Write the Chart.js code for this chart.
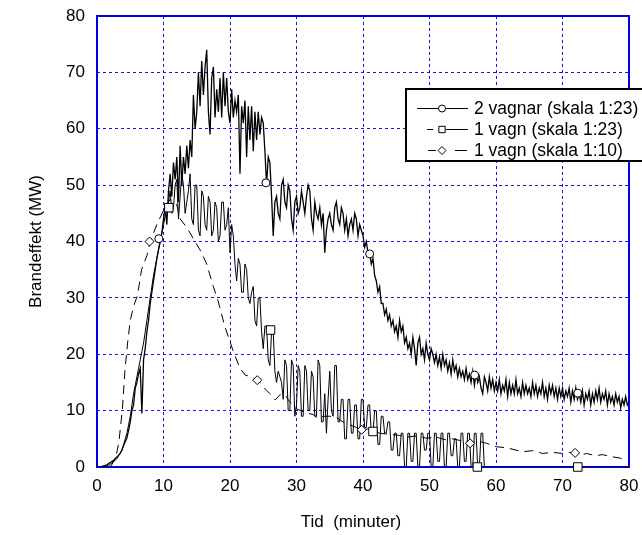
<!DOCTYPE html>
<html>
<head>
<meta charset="utf-8">
<script src="https://cdn.jsdelivr.net/npm/chart.js@4.4.0/dist/chart.umd.min.js"></script>
<style>
  html, body { margin: 0; padding: 0; background: #fff; }
  canvas { display: block; }
</style>
</head>
<body>
<canvas id="fireChart" width="642" height="535"></canvas>
<script>
// minuter mellan mätpunkterna i de två 1:23-serierna
const sampleStep = 0.25;

// 2 vagnar (skala 1:23), MW, var 0.25 min från 0 till 80
const vagnar2 = [
    0, 0, 0, 0.1, 0.2, 0.3, 0.4, 0.6, 0.8, 1.0, 1.2, 1.5, 1.8, 2.1, 2.4, 3, 3.8, 4.5, 5.2, 6.5,
    8, 10, 11, 14, 15, 16.5, 17.5, 9.5, 19, 21, 24, 26, 29, 31, 33, 35, 37, 38.5, 40, 41.5,
    44, 46, 43, 49, 52, 48, 54, 51, 55, 47, 57, 50, 55, 52, 57, 53, 58, 55, 66, 60,
    63, 70, 64, 72, 66, 71, 74, 63, 59, 69, 71, 62, 67, 63, 69, 62, 70, 64, 69, 63,
    61, 67, 62, 65, 63, 66, 52, 64, 61, 65, 55, 64, 58, 64, 56, 63, 58, 63, 59, 62,
    61, 56, 50, 55, 54, 48, 41, 47, 48, 45, 44, 50, 51, 47, 46, 50, 49, 44, 42, 47,
    48, 45, 46, 49, 47, 45, 48, 50, 49, 44, 42, 47, 45, 44, 46, 43, 45, 38, 42, 44,
    45, 43, 42, 46, 47, 44, 43, 46, 45, 42, 44, 41, 43, 44, 42, 45, 44, 41, 43, 42,
    41, 39, 40, 38, 38, 36, 37, 34, 33, 31, 32, 29, 29, 27, 28, 26, 27, 25, 26, 24,
    25, 23, 26, 24, 25, 22, 23, 21, 22, 20, 23, 21, 18, 22, 23, 20, 21, 19, 22, 20,
    19, 21, 20, 18.5, 20, 18, 19.5, 17.5, 20, 18, 19, 17, 18.5, 16.5, 19, 17, 18, 16, 17.5, 16,
    17, 15.5, 17.5, 15.5, 16.5, 15, 17, 14.5, 16.5, 15, 16, 14, 13, 16, 15, 13.5, 16, 14, 15.5, 13.5,
    15, 13.5, 15.5, 13, 14.5, 13.5, 15.5, 12.5, 15, 13, 14.5, 13, 15.5, 13, 14, 12.5, 15, 13, 14.5, 13,
    14, 12.5, 15, 13, 14.5, 12.5, 14, 13, 15, 12.5, 14, 12, 14.5, 13, 14.5, 12.5, 14, 12, 14, 12.5,
    14, 12, 13.5, 12.5, 14, 11.5, 13.5, 12, 14, 12, 13, 11.5, 13.5, 11, 13, 12, 13.5, 11, 13, 11.5,
    13.5, 12, 14, 11.5, 13, 12, 13.5, 11, 13, 11.5, 12.5, 11, 13, 11.5, 12.5, 10.5, 12, 11, 12.5, 11,
    11.5
];

// 1 vagn (skala 1:23), MW, var 0.25 min från 0 till 80
const vagn1 = [
    0, 0, 0, 0, 0, 0.1, 0.2, 0.3, 0.5, 0.7, 1, 1.2, 1.5, 2, 2.5, 3, 4, 5, 6, 7.5,
    9, 11, 13, 14.5, 16, 17.5, 19, 20.5, 22, 24, 26, 28, 30, 32, 34, 35.5, 37, 38.5, 40, 41.5,
    43, 44.5, 46, 47, 49, 45, 46, 50, 51, 44, 48, 52, 50, 45, 47, 49, 52, 44, 43, 50,
    50, 42, 41, 49, 48, 43, 42, 48, 47, 41, 42, 47, 46, 40, 41, 47, 47, 42, 43, 46,
    38, 43, 41, 36, 33, 37, 36, 31, 31, 36, 35, 30, 29, 31, 32, 26, 25, 30, 30, 24,
    21, 25, 25, 19, 18, 24, 24, 17, 15, 17, 16, 15, 12, 19, 18, 10, 10, 19, 18, 9,
    11, 18, 17, 9, 9, 18, 17, 10, 10, 17, 16, 9, 9, 19, 18, 8, 8, 13, 6, 12,
    17, 10, 9, 18, 18, 8, 8, 12, 12, 5, 5, 12, 12, 6, 6, 11, 11, 5, 5, 12,
    12, 7, 7, 11, 11, 6, 6, 10, 10, 4, 4, 9, 9, 6, 6, 8, 8, 3, 3, 6,
    6, 2, 2, 6, 6, 0, 0, 6, 6, 1, 1, 6, 6, 0, 0, 6, 6, 3, 3, 6,
    6, 0, 0, 6, 6, 1, 1, 6, 6, 0, 0, 6, 6, 2, 2, 5, 5, 0, 0, 6,
    6, 1, 1, 6, 6, 0, 0, 6, 6, 0, 0, 6, 6, 0, 0, 0, 0, 0, 0, 0,
    0, 0, 0, 0, 0, 0, 0, 0, 0, 0, 0, 0, 0, 0, 0, 0, 0, 0, 0, 0,
    0, 0, 0, 0, 0, 0, 0, 0, 0, 0, 0, 0, 0, 0, 0, 0, 0, 0, 0, 0,
    0, 0, 0, 0, 0, 0, 0, 0, 0, 0, 0, 0, 0, 0, 0, 0, 0, 0, 0, 0,
    0, 0, 0, 0, 0, 0, 0, 0, 0, 0, 0, 0, 0, 0, 0, 0, 0, 0, 0, 0,
    0
];

// 1 vagn (skala 1:10)
const vagn10Time = [
    2, 2.8, 3.3, 3.8, 4.2, 4.6, 5, 5.5, 6.1, 6.7, 7.5, 8, 9, 10, 11, 12,
    12.5, 13.5, 14.5, 15.5, 16.5, 17.5, 18.2, 19.2, 20.5, 21.5, 22.3, 23.2, 24.2, 25, 26, 26.8,
    27.5, 28.3, 29, 30, 31.5, 32.5, 33.3, 34, 35, 36, 37, 38, 39, 40, 41, 42.5,
    44, 45.5, 46.6, 48, 49.6, 51, 52.5, 53.5, 55, 56.1, 57.2, 58.6, 60, 61.6, 63, 64,
    65.5, 67, 68.5, 70, 71, 71.9, 73, 73.6, 75, 76, 77.5, 78.6, 79.5
];
const vagn10Power = [
    0, 1.5, 4.5, 10, 17, 22, 26, 28.5, 30.5, 35, 37.5, 40, 43, 45.5, 47.5, 46.5,
    44, 42.5, 40.5, 38.5, 36, 32, 29.5, 25, 20.5, 17.5, 16.3, 16, 15.4, 14.2, 13, 11.9,
    12.8, 12.8, 11.5, 10.3, 9.6, 9.3, 8.6, 9, 9, 8.8, 8, 7.5, 7, 6.6, 6.8, 6,
    5.8, 5.6, 5.3, 5.5, 5.1, 5.3, 4.8, 5, 4.6, 4.2, 4.6, 4.2, 3.6, 3.4, 3, 2.7,
    2.9, 2.4, 2.6, 2.4, 2.6, 2.5, 2.2, 2.4, 2, 2.2, 1.8, 1.6, 1.2
];

// symboler längs kurvorna [tid, MW]
const circleMarks  = [[9.3, 40.5], [25.4, 50.4], [41, 37.8], [56.8, 16.3], [72.3, 13.1]];
const squareMarks  = [[10.8, 46], [26.1, 24.3], [41.5, 6.3], [57.2, 0], [72.3, 0]];
const diamondMarks = [[7.9, 40], [24.1, 15.4], [39.8, 6.6], [56.1, 4.2], [71.9, 2.5]];

const seriesLabels = ['2 vagnar (skala 1:23)', '1 vagn (skala 1:23)', '1 vagn (skala 1:10)'];
const xTitle = 'Tid  (minuter)';
const yTitle = 'Brandeffekt (MW)';
const axisMin = 0;
const axisMax = 80;
const tickStep = 10;

const FONT = "'Liberation Sans', Arial, Helvetica, sans-serif";
const GRID_BLUE = '#1414f0';

function sampled(values) {
    return values.map((v, i) => ({ x: i * sampleStep, y: v }));
}
function pairs(list) {
    return list.map(p => ({ x: p[0], y: p[1] }));
}

// blå ram runt diagramytan
const framePlugin = {
    id: 'frame',
    beforeDatasetsDraw(chart) {
        const { ctx, chartArea: a } = chart;
        ctx.save();
        ctx.strokeStyle = '#0000e6';
        ctx.lineWidth = 2;
        ctx.setLineDash([]);
        ctx.strokeRect(a.left, a.top, a.right - a.left, a.bottom - a.top);
        ctx.restore();
    }
};

// axeltitlar
const titlePlugin = {
    id: 'axisTitles',
    afterDraw(chart) {
        const { ctx, chartArea: a } = chart;
        ctx.save();
        ctx.fillStyle = '#000';
        ctx.textAlign = 'center';
        ctx.textBaseline = 'middle';
        ctx.font = '17px ' + FONT;
        ctx.fillText(xTitle, 351, 522);
        ctx.translate(36, (a.top + a.bottom) / 2);
        ctx.rotate(-Math.PI / 2);
        ctx.fillText(yTitle, 0, 0);
        ctx.restore();
    }
};

// förklaring i rutan uppe till höger
const legendPlugin = {
    id: 'boxLegend',
    afterDraw(chart) {
        const ctx = chart.ctx;
        const draw = Chart.helpers.drawPoint;
        ctx.save();
        ctx.fillStyle = '#fff';
        ctx.fillRect(406, 89, 240, 72);
        ctx.strokeStyle = '#000';
        ctx.lineWidth = 2;
        ctx.strokeRect(406, 89, 240, 72);

        ctx.lineWidth = 1;
        const rows = [108, 129, 150];
        const segs = [
            [[417, 468]],
            [[427, 433], [446, 468]],
            [[428, 436], [455, 467]]
        ];
        const styles = [
            { pointStyle: 'circle', radius: 3.5 },
            { pointStyle: 'rect', radius: 4.5 },
            { pointStyle: 'rectRot', radius: 4 }
        ];
        rows.forEach((y, i) => {
            ctx.strokeStyle = '#000';
            ctx.beginPath();
            segs[i].forEach(s => { ctx.moveTo(s[0], y + 0.5); ctx.lineTo(s[1], y + 0.5); });
            ctx.stroke();
            ctx.fillStyle = '#fff';
            ctx.strokeStyle = '#000';
            draw(ctx, { pointStyle: styles[i].pointStyle, radius: styles[i].radius, borderWidth: 1, rotation: 0 }, 442, y + 0.5);
            ctx.fillStyle = '#000';
            ctx.font = '17.5px ' + FONT;
            ctx.textAlign = 'left';
            ctx.textBaseline = 'middle';
            ctx.fillText(seriesLabels[i], 474, y + 1);
        });
        ctx.restore();
    }
};

function markerSet(list, style, radius) {
    return {
        type: 'scatter',
        data: pairs(list),
        showLine: false,
        pointStyle: style,
        pointRadius: radius,
        pointBackgroundColor: '#fff',
        pointBorderColor: '#000',
        pointBorderWidth: 1,
        clip: false,
        order: -1
    };
}

new Chart(document.getElementById('fireChart').getContext('2d'), {
    type: 'line',
    data: {
        datasets: [
            {
                label: seriesLabels[0],
                data: sampled(vagnar2),
                borderColor: '#000',
                borderWidth: 1.3,
                pointRadius: 0,
                tension: 0
            },
            {
                label: seriesLabels[1],
                data: sampled(vagn1),
                borderColor: '#000',
                borderWidth: 1,
                pointRadius: 0,
                tension: 0
            },
            {
                label: seriesLabels[2],
                data: vagn10Time.map((t, i) => ({ x: t, y: vagn10Power[i] })),
                borderColor: '#000',
                borderWidth: 1,
                borderDash: [9, 6],
                pointRadius: 0,
                tension: 0
            },
            markerSet(circleMarks, 'circle', 4),
            markerSet(squareMarks, 'rect', 6),
            markerSet(diamondMarks, 'rectRot', 4.5)
        ]
    },
    options: {
        responsive: false,
        animation: false,
        layout: { padding: { left: 0, right: 13, top: 16, bottom: 0 } },
        plugins: { legend: { display: false }, tooltip: { enabled: false } },
        scales: {
            x: {
                type: 'linear',
                min: axisMin,
                max: axisMax,
                ticks: { stepSize: tickStep, color: '#000', padding: 9, maxRotation: 0, font: { family: FONT, size: 17 } },
                grid: { color: GRID_BLUE, lineWidth: 1, drawTicks: false },
                border: { display: false, dash: [3, 3] },
                afterFit(scale) {
                    scale.height = 68;
                    scale.paddingLeft = 0;
                    scale.paddingRight = 0;
                }
            },
            y: {
                min: axisMin,
                max: axisMax,
                ticks: { stepSize: tickStep, color: '#000', padding: 12, font: { family: FONT, size: 17 } },
                grid: { color: GRID_BLUE, lineWidth: 1, drawTicks: false },
                border: { display: false, dash: [3, 3] },
                afterFit(scale) {
                    scale.width = 97;
                    scale.paddingTop = 0;
                    scale.paddingBottom = 0;
                }
            }
        }
    },
    plugins: [framePlugin, titlePlugin, legendPlugin]
});
</script>
</body>
</html>
